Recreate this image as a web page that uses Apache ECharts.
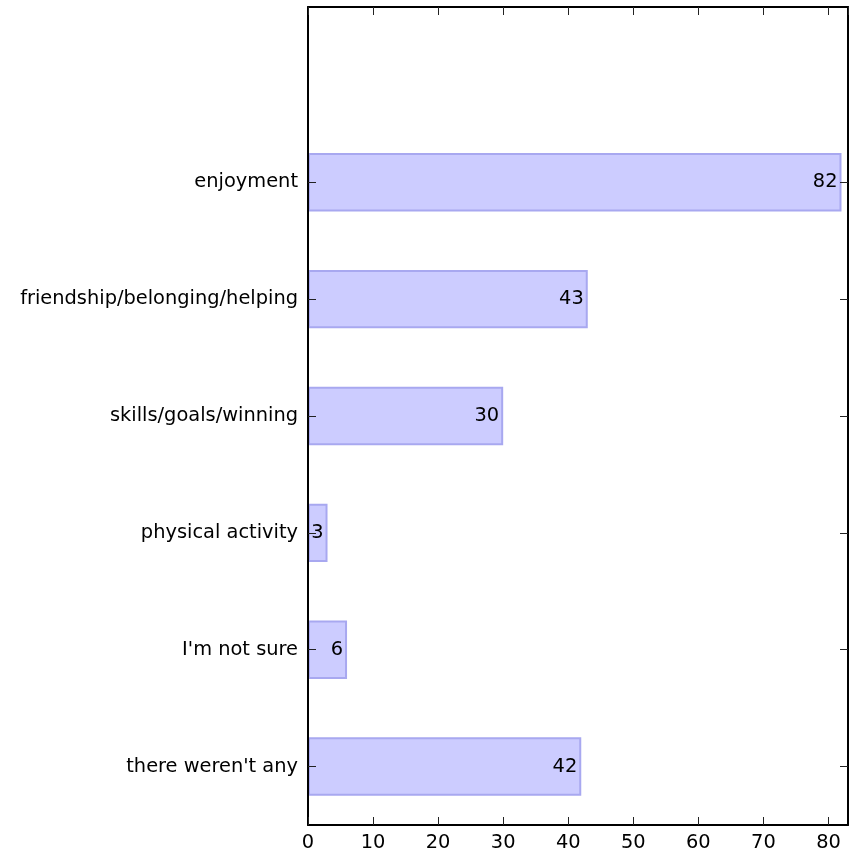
<!DOCTYPE html>
<html>
<head>
<meta charset="utf-8">
<script src="https://cdn.jsdelivr.net/npm/echarts@6/dist/echarts.min.js"></script>
<style>
  html, body { margin: 0; padding: 0; background: #fff; }
  #chart { width: 858px; height: 852px; }
</style>
</head>
<body>
<div id="chart"></div>
<script>
// Reasons given, top to bottom (the blank slot keeps headroom above the first bar)
const categories = ['', 'enjoyment', 'friendship/belonging/helping', 'skills/goals/winning',
  'physical activity', "I'm not sure", "there weren't any"];
const counts = [null, 82, 43, 30, 3, 6, 42];
const xTicks = { min: 0, max: 83, interval: 10 };

const font = 'DejaVu Sans, sans-serif';
const fs = 19.4;
const chart = echarts.init(document.getElementById('chart'), null, { renderer: 'canvas' });

const tickStyle = { color: '#222', width: 1 };
const frameLine = { show: true, onZero: false, lineStyle: { color: '#000', width: 2 } };
// no tick on the blank headroom slot
const skipBlank = (i) => i > 0;

chart.setOption({
  animation: false,
  backgroundColor: '#ffffff',
  grid: { left: 308, right: 10, top: 7, bottom: 26, containLabel: false },
  xAxis: [
    {
      type: 'value', position: 'bottom', z: 5,
      min: xTicks.min, max: xTicks.max, interval: xTicks.interval,
      splitLine: { show: false },
      axisLine: frameLine,
      axisTick: { show: true, inside: true, length: 8, lineStyle: tickStyle },
      axisLabel: { show: true, color: '#000', fontFamily: font, fontSize: fs, margin: 8, showMaxLabel: false }
    },
    {
      type: 'value', position: 'top', z: 5,
      min: xTicks.min, max: xTicks.max, interval: xTicks.interval,
      splitLine: { show: false },
      axisLine: frameLine,
      axisTick: { show: true, inside: true, length: 8, lineStyle: tickStyle },
      axisLabel: { show: false }
    }
  ],
  yAxis: [
    {
      type: 'category', position: 'left', inverse: true, data: categories, z: 5,
      axisLine: frameLine,
      axisTick: { show: true, inside: true, length: 8, alignWithLabel: true, interval: skipBlank, lineStyle: tickStyle },
      axisLabel: { show: true, color: '#000', fontFamily: font, fontSize: fs, margin: 10 },
      splitLine: { show: false }
    },
    {
      type: 'category', position: 'right', inverse: true, data: categories, z: 5,
      axisLine: frameLine,
      axisTick: { show: true, inside: true, length: 8, alignWithLabel: true, interval: skipBlank, lineStyle: tickStyle },
      axisLabel: { show: false },
      splitLine: { show: false }
    }
  ],
  series: [
    {
      type: 'bar',
      xAxisIndex: 0, yAxisIndex: 0,
      data: counts,
      barWidth: '50%',
      itemStyle: { color: '#ccccff', borderColor: '#a8a8f0', borderWidth: 2 },
      label: {
        show: true, position: 'insideRight', distance: 4,
        color: '#000', fontFamily: font, fontSize: fs,
        formatter: (p) => p.value == null ? '' : String(p.value)
      }
    }
  ]
});
</script>
</body>
</html>
